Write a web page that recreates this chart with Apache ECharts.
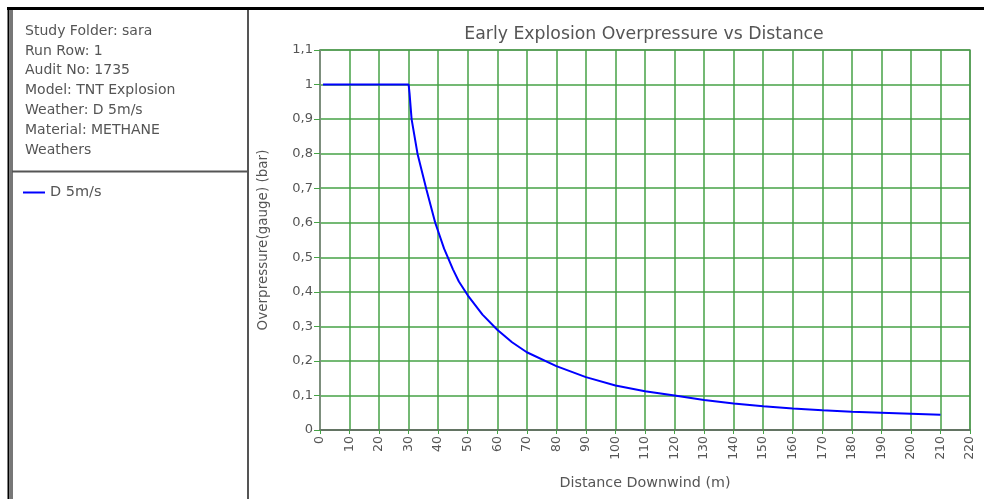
<!DOCTYPE html>
<html>
<head>
<meta charset="utf-8">
<script src="https://cdn.jsdelivr.net/npm/echarts@6/dist/echarts.min.js"></script>
<style>
  html, body { margin: 0; padding: 0; background: #fff; }
  #main { width: 984px; height: 499px; }
</style>
</head>
<body>
<div id="main"></div>
<script>
// distance downwind (m) and overpressure (bar)
const distance = [1, 10, 20, 30, 30.3, 31, 33, 36, 39, 42, 45, 47, 50, 55, 60, 65, 70, 80, 90,
  100, 110, 120, 130, 140, 150, 160, 170, 180, 190, 200, 210]
const overpressure = [1, 1, 1, 1, 0.975, 0.9, 0.8, 0.697, 0.6, 0.525, 0.465, 0.43, 0.39, 0.334, 0.29, 0.254, 0.225,
  0.185, 0.153, 0.129, 0.112, 0.1, 0.087, 0.077, 0.069, 0.062, 0.057, 0.053, 0.05, 0.047, 0.044]
const infoLines = ['Study Folder: sara', 'Run Row: 1', 'Audit No: 1735', 'Model: TNT Explosion',
  'Weather: D 5m/s', 'Material: METHANE', 'Weathers']
const seriesName = 'D 5m/s'

const chart = echarts.init(document.getElementById('main'))
const textColor = '#555'
const gridGreen = '#46a246'
const font = 'DejaVu Sans, Verdana, sans-serif'

const graphics = [
  // outer frame
  { type: 'line', shape: { x1: 7, y1: 8.5, x2: 984, y2: 8.5 }, style: { stroke: '#000', lineWidth: 3 } },
  { type: 'line', shape: { x1: 8.5, y1: 8, x2: 8.5, y2: 499 }, style: { stroke: '#000', lineWidth: 2 } },
  { type: 'line', shape: { x1: 11.5, y1: 10, x2: 11.5, y2: 499 }, style: { stroke: '#777', lineWidth: 3 } },
  // panel dividers
  { type: 'line', shape: { x1: 248, y1: 10, x2: 248, y2: 499 }, style: { stroke: '#555', lineWidth: 2 } },
  { type: 'line', shape: { x1: 12, y1: 171.5, x2: 248, y2: 171.5 }, style: { stroke: '#555', lineWidth: 2 } }
]
infoLines.forEach(function (t, i) {
  graphics.push({
    type: 'text',
    left: 25,
    top: 24 + i * 19.9,
    style: { text: t, fill: textColor, font: '14px ' + font }
  })
})

chart.setOption({
  animation: false,
  backgroundColor: '#fff',
  title: {
    text: 'Early Explosion Overpressure vs Distance',
    left: 639,
    textAlign: 'center',
    top: 21,
    textStyle: { color: textColor, fontFamily: font, fontSize: 17.3, fontWeight: 'normal' }
  },
  legend: {
    left: 23,
    top: 185,
    padding: 0,
    icon: 'rect',
    itemWidth: 22,
    itemHeight: 2,
    itemGap: 4,
    textStyle: { color: textColor, fontFamily: font, fontSize: 14.5 },
    data: [seriesName]
  },
  graphic: graphics,
  grid: {
    left: 320,
    right: 14,
    top: 50,
    bottom: 69,
    show: true,
    borderColor: '#888',
    borderWidth: 1.5
  },
  xAxis: {
    type: 'value',
    min: 0,
    max: 220,
    interval: 10,
    name: 'Distance Downwind (m)',
    nameLocation: 'middle',
    nameGap: 46,
    nameTextStyle: { color: textColor, fontFamily: font, fontSize: 14.3 },
    axisLine: { lineStyle: { color: '#666', width: 1.5 } },
    axisTick: { show: true, length: 4, lineStyle: { color: gridGreen } },
    axisLabel: { rotate: 90, color: textColor, fontFamily: font, fontSize: 12.5, margin: 6 },
    splitLine: { show: true, lineStyle: { color: gridGreen, width: 1.5 } }
  },
  yAxis: {
    type: 'value',
    min: 0,
    max: 1.1,
    interval: 0.1,
    name: 'Overpressure(gauge) (bar)',
    nameLocation: 'middle',
    nameGap: 50,
    nameTextStyle: { color: textColor, fontFamily: font, fontSize: 13.5 },
    axisLine: { show: true, lineStyle: { color: '#888', width: 1.5 } },
    axisTick: { show: true, length: 6, lineStyle: { color: gridGreen } },
    axisLabel: {
      color: textColor,
      fontFamily: font,
      fontSize: 13,
      margin: 7,
      formatter: function (v) {
        const r = Math.round(v * 10) / 10
        if (r === 0) return '0'
        if (r === 1) return '1'
        return r.toFixed(1).replace('.', ',')
      }
    },
    splitLine: { show: true, lineStyle: { color: gridGreen, width: 1.5 } }
  },
  series: [
    {
      name: seriesName,
      type: 'line',
      showSymbol: false,
      symbol: 'none',
      smooth: false,
      lineStyle: { color: '#0000ff', width: 2 },
      itemStyle: { color: '#0000ff' },
      data: distance.map(function (d, i) { return [d, overpressure[i]] })
    }
  ]
})
</script>
</body>
</html>
